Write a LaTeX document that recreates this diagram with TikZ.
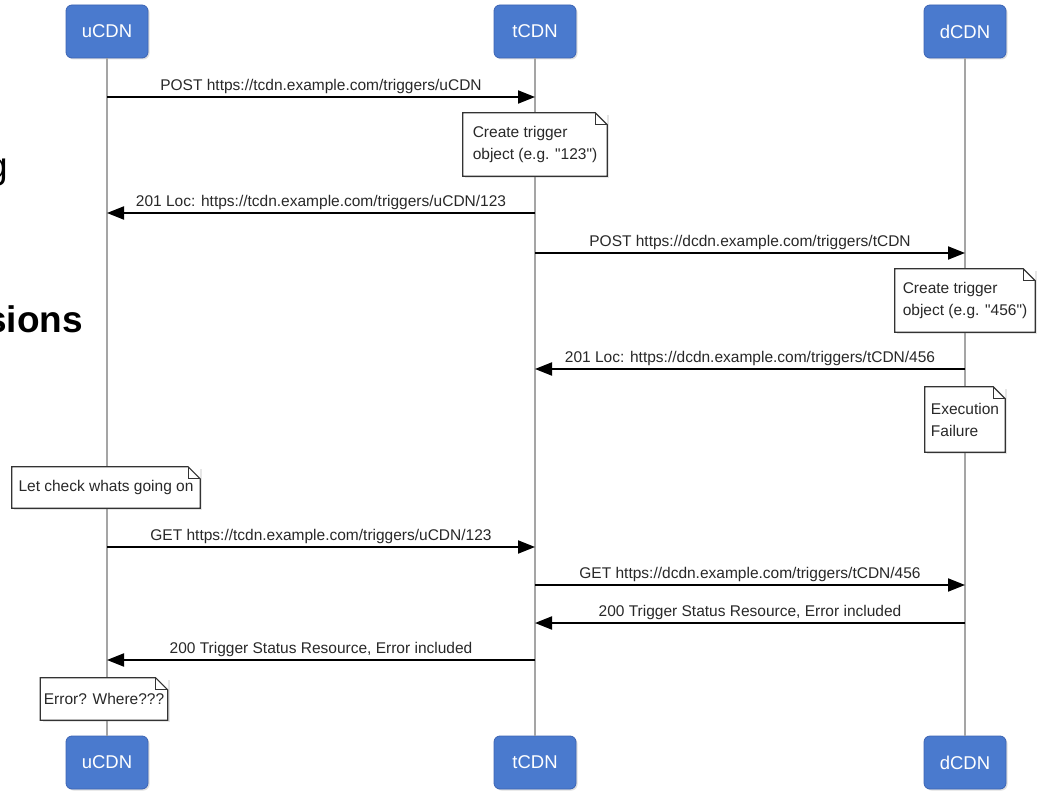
\documentclass[tikz,border=0pt]{standalone}
\usepackage{fontspec}
\setmainfont{Liberation Sans}[Ligatures=TeXOff]
\usetikzlibrary{arrows.meta,shadows}
\definecolor{boxblue}{RGB}{74,122,206}
\definecolor{boxedge}{RGB}{60,100,180}
\definecolor{lifegray}{RGB}{165,165,165}
\definecolor{textgray}{RGB}{40,40,40}
\tikzset{
  party/.style={rectangle, rounded corners=6pt, fill=boxblue, draw=boxedge, line width=0.8pt,
    text=white, minimum width=82pt, minimum height=53pt, font=\fontsize{18.5}{20}\selectfont,
    drop shadow={opacity=0.25, shadow xshift=1.5pt, shadow yshift=-1.5pt}},
  life/.style={draw=lifegray, line width=2.5pt},
  msg/.style={draw=black, line width=2pt, -{Triangle[length=17pt,width=13pt]}},
  lbl/.style={midway, above, inner sep=2pt, text=textgray, font=\fontsize{15.5}{18}\selectfont},
  note/.style={fill=white, align=left, inner sep=0pt, text=textgray, font=\fontsize{15.5}{22}\selectfont,
    drop shadow={opacity=0.2, shadow xshift=2pt, shadow yshift=-2pt}},
  noteline/.style={draw=black!80, line width=1.2pt},
  frag/.style={anchor=base east, inner sep=0pt, font=\fontsize{37}{40}\selectfont},
}
\begin{document}
\begin{tikzpicture}[x=1pt, y=-1pt]
      \useasboundingbox (0,0) rectangle (1041,791);
      \node[frag] (g) at (8,179) {g};
      \node[frag, font=\bfseries\fontsize{37}{40}\selectfont] (sions) at (83,333) {sions};
      \draw
        (107,31.5) node[party] (u){uCDN}
        (535,31.5) node[party] (t){tCDN}
        (965,31.5) node[party] (d){dCDN}
        (107,762.5) node[party] (u2){uCDN}
        (535,762.5) node[party] (t2){tCDN}
        (965,762.5) node[party] (d2){dCDN};
      \draw[life] (u) -- (u2);
      \draw[life] (t) -- (t2);
      \draw[life] (d) -- (d2);
      \node[note, minimum width=144pt, minimum height=63pt] (n1) at (535,144.5) {Create trigger\\object (e.g. "123")};
      \node[note, minimum width=140pt, minimum height=63pt] (n2) at (965,300.5) {Create trigger\\object (e.g. "456")};
      \node[note, minimum width=80pt, minimum height=65pt] (n3) at (965,419.5) {Execution\\Failure};
      \node[note, minimum width=188pt, minimum height=41pt] (n4) at (106,487.5) {Let check whats going on};
      \node[note, minimum width=127pt, minimum height=42pt] (n5) at (104,699) {Error? Where???};
      \foreach \n in {n1,n2,n3,n4,n5} {
        \draw[noteline] (\n.north west) -- ([xshift=-12pt]\n.north east) -- ([yshift=-12pt]\n.north east)
          -- (\n.south east) -- (\n.south west) -- cycle;
        \draw[noteline] ([xshift=-12pt]\n.north east) |- ([yshift=-12pt]\n.north east);
      }
      \begin{scope}[msg]
        \draw (u |- 0,97) to node[lbl]{POST https://tcdn.example.com/triggers/uCDN} (t |- 0,97);
        \draw (t |- 0,213) to node[lbl]{201 Loc: https://tcdn.example.com/triggers/uCDN/123} (u |- 0,213);
        \draw (t |- 0,253) to node[lbl]{POST https://dcdn.example.com/triggers/tCDN} (d |- 0,253);
        \draw (d |- 0,369) to node[lbl]{201 Loc: https://dcdn.example.com/triggers/tCDN/456} (t |- 0,369);
        \draw (u |- 0,547) to node[lbl]{GET https://tcdn.example.com/triggers/uCDN/123} (t |- 0,547);
        \draw (t |- 0,585) to node[lbl]{GET https://dcdn.example.com/triggers/tCDN/456} (d |- 0,585);
        \draw (d |- 0,623) to node[lbl]{200 Trigger Status Resource, Error included} (t |- 0,623);
        \draw (t |- 0,660) to node[lbl]{200 Trigger Status Resource, Error included} (u |- 0,660);
      \end{scope}
    \end{tikzpicture}
\end{document}
